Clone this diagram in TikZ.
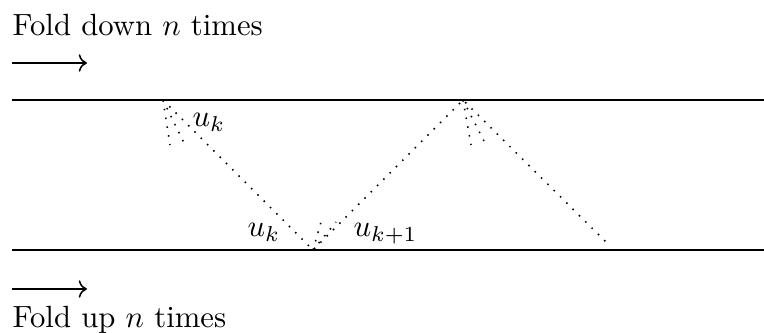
\documentclass[tikz,border=0pt]{standalone}
\usepackage{amsmath,amssymb}
\usepackage{tikz}
\usetikzlibrary{arrows.meta}
\begin{document}
\begin{tikzpicture}[x=0.3257pt, y=-0.3257pt,
    wall/.style={line width=0.7pt},
    fold/.style={line width=0.5pt, dash pattern=on 0.5pt off 2.4pt},
    every node/.style={inner sep=0pt}]
  \useasboundingbox (0,0) rectangle (764,333);
  % walls
  \coordinate (top west) at (12,100);
  \coordinate (top east) at (764,100);
  \coordinate (bot west) at (12,250);
  \coordinate (bot east) at (764,250);
  \draw[wall] (top west) -- (top east);
  \draw[wall] (bot west) -- (bot east);
  % reflection points
  \coordinate (p1) at (163,100);
  \coordinate (p2) at (313,250);
  \coordinate (p3) at (463,100);
  \coordinate (p4) at (610,246);
  \draw[fold] (p1) -- (p2) -- (p3) -- (p4);
  \draw[fold] (p1) -- ++(7,45);
  \draw[fold] (p1) -- ++(22,45);
  \draw[fold] (p3) -- ++(8,45);
  \draw[fold] (p3) -- ++(23,45);
  \draw[fold] (p2) -- ++(8,-28);
  \draw[fold] (p2) -- ++(23,-28);
  \node[anchor=base west] (uk top) at (192,127) {$u_k$};
  \node[anchor=base west] (uk bot) at (247,237) {$u_k$};
  \node[anchor=base west] (uk next) at (353,237) {$u_{k+1}$};
  % directions
  \node[anchor=base west] (down) at (12,36) {Fold down $n$ times};
  \node[anchor=base west] (up) at (12,328) {Fold up $n$ times};
  \coordinate (down a) at (12,63);
  \coordinate (down b) at (87,63);
  \coordinate (up a) at (12,289);
  \coordinate (up b) at (87,289);
  \draw[->, line width=0.5pt] (down a) -- (down b);
  \draw[->, line width=0.5pt] (up a) -- (up b);
\end{tikzpicture}
\end{document}
